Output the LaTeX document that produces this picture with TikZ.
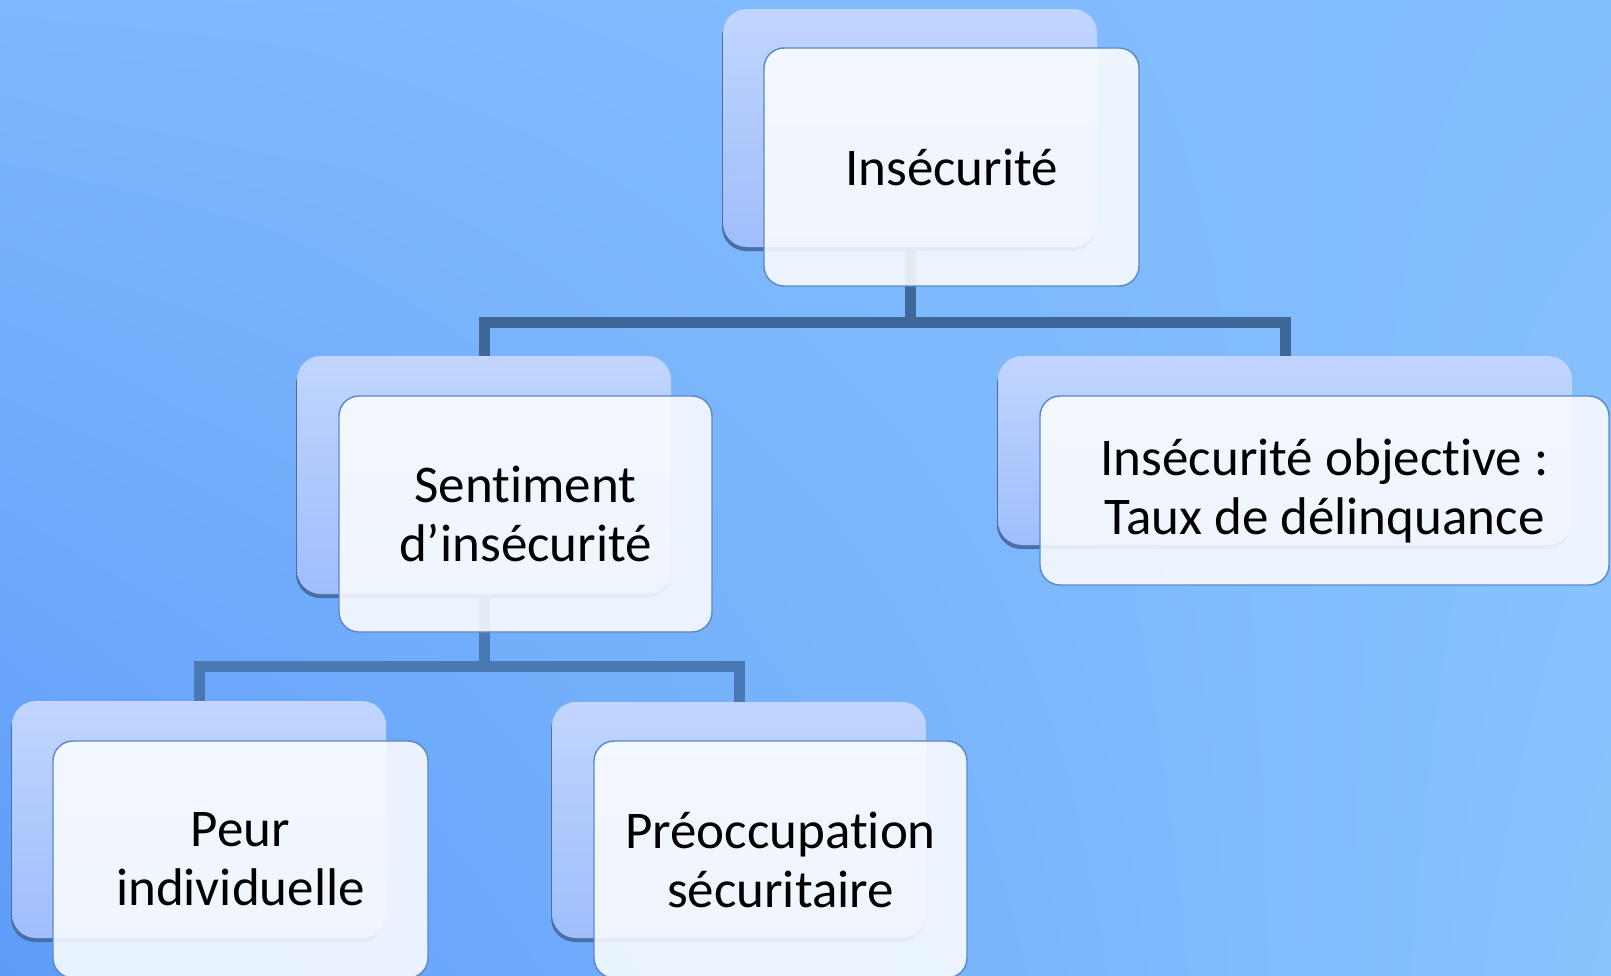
\documentclass[tikz,border=0pt]{standalone}
\usepackage{fontspec}
\setmainfont{Carlito}[Ligatures={TeX,NoCommon}]
\usetikzlibrary{shadows,shadings}
\definecolor{bgUL}{HTML}{7FB6FD}
\definecolor{bgUR}{HTML}{83BEFD}
\definecolor{bgLL}{HTML}{5E9CF9}
\definecolor{bgLR}{HTML}{8AC4FE}
\definecolor{backtop}{HTML}{C1D5FE}
\definecolor{backbot}{HTML}{9FBEFC}
\definecolor{backshadow}{HTML}{4A6EA6}
\definecolor{frontfill}{HTML}{FBFDFF}
\definecolor{frontborder}{HTML}{5B87C9}
\definecolor{linkA}{HTML}{3F6899}
\definecolor{linkB}{HTML}{4A78B4}
\tikzset{
  backbox/.style={rectangle, rounded corners=24pt, inner sep=0pt,
    top color=backtop, bottom color=backbot, draw=none,
    drop shadow={shadow xshift=-1pt, shadow yshift=-4pt, fill=backshadow, opacity=1}},
  frontbox/.style={rectangle, rounded corners=20pt, inner sep=0pt,
    draw=frontborder, line width=1.4pt, fill=frontfill, fill opacity=0.88,
    text opacity=1, align=center, font=\fontsize{53}{59}\selectfont},
  linkstyle/.style={line width=11pt}
}
\begin{document}
\begin{tikzpicture}[x=1pt,y=-1pt]
\useasboundingbox (0,0) rectangle (1611,975);
\shade[upper left=bgUL, upper right=bgUR, lower left=bgLL, lower right=bgLR] (0,0) rectangle (1611,975);

% back boxes
\node[backbox, minimum width=374pt, minimum height=238pt] (topback) at (910,128) {};
\node[backbox, minimum width=374pt, minimum height=238pt] (sentback) at (484,475) {};
\node[backbox, minimum width=574pt, minimum height=189pt] (objback) at (1285,450.5) {};
\node[backbox, minimum width=374pt, minimum height=237pt] (peurback) at (199,819.5) {};
\node[backbox, minimum width=374pt, minimum height=236pt] (preocback) at (739,820) {};

% connectors
\coordinate (j1) at (910,322);
\coordinate (j2) at (484,666);
\draw[linkstyle, linkA] (topback.south) -- (j1);
\draw[linkstyle, linkA] (sentback.north) |- (j1) -| (objback.north);
\draw[linkstyle, linkB] (sentback.south) -- (j2);
\draw[linkstyle, linkB] (peurback.north) |- (j2) -| (preocback.north);

% front boxes
\node[frontbox, minimum width=375pt, minimum height=238pt] (top) at (951.5,167) {Insécurité};
\node[frontbox, minimum width=373pt, minimum height=236pt] (sent) at (525.5,514) {Sentiment\\d’insécurité};
\node[frontbox, minimum width=569pt, minimum height=189pt] (obj) at (1324.5,490.5) {Insécurité objective :\\Taux de délinquance};
\node[frontbox, minimum width=375pt, minimum height=237pt] (peur) at (240.5,859.5) {Peur\\individuelle};
\node[frontbox, minimum width=373pt, minimum height=237pt] (preoc) at (780.5,859.5) {Préoccupation\\sécuritaire};
\end{tikzpicture}
\end{document}
